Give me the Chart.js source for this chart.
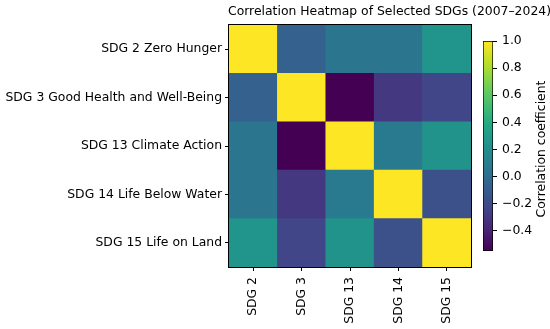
<!DOCTYPE html>
<html>
<head>
<meta charset="utf-8">
<script src="https://cdn.jsdelivr.net/npm/chart.js@4.4.1/dist/chart.umd.min.js"></script>
<style>
  html, body { margin: 0; padding: 0; background: #fff; }
  #wrap { position: relative; width: 550px; height: 329px; }
  #heat { position: absolute; left: 0; top: 0; }
  #cbar { position: absolute; left: 460px; top: 0; }
</style>
</head>
<body>
<div id="wrap">
  <canvas id="heat" width="550" height="329"></canvas>
  <canvas id="cbar" width="90" height="329"></canvas>
</div>
<script>
// ---- data ----
const rowLabels = ["SDG 2 Zero Hunger", "SDG 3 Good Health and Well-Being", "SDG 13 Climate Action", "SDG 14 Life Below Water", "SDG 15 Life on Land"];
const colLabels = ["SDG 2", "SDG 3", "SDG 13", "SDG 14", "SDG 15"];
const sdg2  = [1.00, -0.07,  0.06,  0.05,  0.25];
const sdg3  = [-0.07, 1.00, -0.55, -0.30, -0.23];
const sdg13 = [0.06, -0.55,  1.00,  0.08,  0.24];
const sdg14 = [0.05, -0.30,  0.08,  1.00, -0.17];
const sdg15 = [0.25, -0.23,  0.24, -0.17,  1.00];
const cbarTicks = [-0.4, -0.2, 0.0, 0.2, 0.4, 0.6, 0.8, 1.0];
const vmin = -0.55, vmax = 1.0;
const titleText = 'Correlation Heatmap of Selected SDGs (2007\u20132024)';

const matrix = [sdg2, sdg3, sdg13, sdg14, sdg15];

// ---- viridis colormap ----
const VIR = ["#440154","#482475","#414487","#355f8d","#2a788e","#21918c","#22a884","#44bf70","#7ad151","#bddf26","#fde725"];
function hex2rgb(h){ return [parseInt(h.slice(1,3),16),parseInt(h.slice(3,5),16),parseInt(h.slice(5,7),16)]; }
function viridis(t){
  t = Math.max(0, Math.min(1, t));
  const p = t * (VIR.length - 1);
  const i = Math.min(Math.floor(p), VIR.length - 2);
  const f = p - i;
  const a = hex2rgb(VIR[i]), b = hex2rgb(VIR[i+1]);
  const c = a.map((v, k) => Math.round(v + (b[k] - v) * f));
  return `rgb(${c[0]},${c[1]},${c[2]})`;
}
const norm = v => (v - vmin) / (vmax - vmin);

const FONT = "'DejaVu Sans', sans-serif";
Chart.defaults.font.family = FONT;
Chart.defaults.color = '#000';
const TICK_FS = 12.4;

// ---- heatmap (stacked bar cells) ----
const n = rowLabels.length;
const datasets = [];
for (let k = 0; k < n; k++) {
  const r = n - 1 - k; // bottom dataset = last row
  datasets.push({
    label: rowLabels[r],
    data: colLabels.map(() => 1),
    backgroundColor: matrix[r].map(v => viridis(norm(v))),
    borderWidth: 0,
    barPercentage: 1,
    categoryPercentage: 1
  });
}

const framePlugin = {
  id: 'frame',
  afterDatasetsDraw(chart) {
    const {ctx, chartArea: a} = chart;
    ctx.save();
    ctx.strokeStyle = '#000';
    ctx.lineWidth = 1;
    ctx.strokeRect(Math.round(a.left) - 0.5, Math.round(a.top) - 0.5, a.right - a.left + 1, a.bottom - a.top + 1);
    ctx.restore();
  },
  afterDraw(chart) {
    const {ctx, chartArea: a} = chart;
    ctx.save();
    ctx.fillStyle = '#000';
    ctx.font = "12.4px " + FONT;
    ctx.textAlign = 'left';
    ctx.textBaseline = 'middle';
    ctx.fillText(titleText, a.left - 1, 12);
    ctx.restore();
  }
};

new Chart(document.getElementById('heat'), {
  type: 'bar',
  data: { labels: colLabels, datasets },
  plugins: [framePlugin],
  options: {
    responsive: false,
    animation: false,
    layout: { padding: { left: 0, right: 79, top: 25, bottom: 0 } },
    plugins: {
      legend: { display: false },
      tooltip: { enabled: false },
      title: { display: false }
    },
    scales: {
      x: {
        stacked: true,
        grid: { display: true, drawOnChartArea: false, drawTicks: true, tickLength: 4, color: '#000', offset: false },
        border: { display: false },
        ticks: { font: { size: TICK_FS }, minRotation: 90, maxRotation: 90, padding: 6, color: '#000' },
        afterFit(s) { s.height = 62; }
      },
      y: {
        stacked: true,
        min: 0, max: n,
        grid: { display: true, drawOnChartArea: false, drawTicks: true, tickLength: 4, color: '#000' },
        border: { display: false },
        afterBuildTicks(s) { s.ticks = rowLabels.map((_, i) => ({ value: i + 0.5 })); },
        ticks: {
          font: { size: TICK_FS }, padding: 3, color: '#000',
          callback: v => rowLabels[n - 1 - Math.floor(v)]
        },
        afterFit(s) { s.width = 229; }
      }
    }
  }
});

// ---- colorbar ----
const cbarLabelPlugin = {
  id: 'cbarLabel',
  afterDraw(chart) {
    const {ctx, chartArea: a} = chart;
    ctx.save();
    ctx.translate(82, (a.top + a.bottom) / 2 + 3);
    ctx.rotate(-Math.PI / 2);
    ctx.textAlign = 'center';
    ctx.textBaseline = 'middle';
    ctx.fillStyle = '#000';
    ctx.font = TICK_FS + "px " + FONT;
    ctx.fillText('Correlation coefficient', 0, 0);
    ctx.restore();
  }
};

new Chart(document.getElementById('cbar'), {
  type: 'bar',
  data: {
    labels: [''],
    datasets: [{
      data: [[vmin, vmax]],
      barPercentage: 1,
      categoryPercentage: 1,
      borderWidth: 1,
      borderColor: '#000',
      borderSkipped: false,
      backgroundColor(c) {
        const chart = c.chart;
        const a = chart.chartArea;
        if (!a) return '#888';
        const y = chart.scales.y;
        const y0 = y.getPixelForValue(vmin), y1 = y.getPixelForValue(vmax);
        const g = chart.ctx.createLinearGradient(0, y0, 0, y1);
        VIR.forEach((col, i) => g.addColorStop(i / (VIR.length - 1), col));
        return g;
      }
    }]
  },
  plugins: [cbarLabelPlugin],
  options: {
    responsive: false,
    animation: false,
    layout: { padding: { left: 23, right: 0, top: 41, bottom: 78 } },
    plugins: { legend: { display: false }, tooltip: { enabled: false }, title: { display: false } },
    scales: {
      x: { display: false },
      y: {
        position: 'right',
        min: vmin, max: vmax,
        grid: { display: true, drawOnChartArea: false, drawTicks: true, tickLength: 4, color: '#000' },
        border: { display: false },
        afterBuildTicks(s) { s.ticks = cbarTicks.map(v => ({ value: v })); },
        ticks: {
          font: { size: TICK_FS }, padding: 5, color: '#000',
          callback: v => (Math.abs(v) < 1e-9 ? '0.0' : v.toFixed(1).replace('-', '\u2212'))
        },
        afterFit(s) { s.width = 57; }
      }
    }
  }
});
</script>
</body>
</html>
